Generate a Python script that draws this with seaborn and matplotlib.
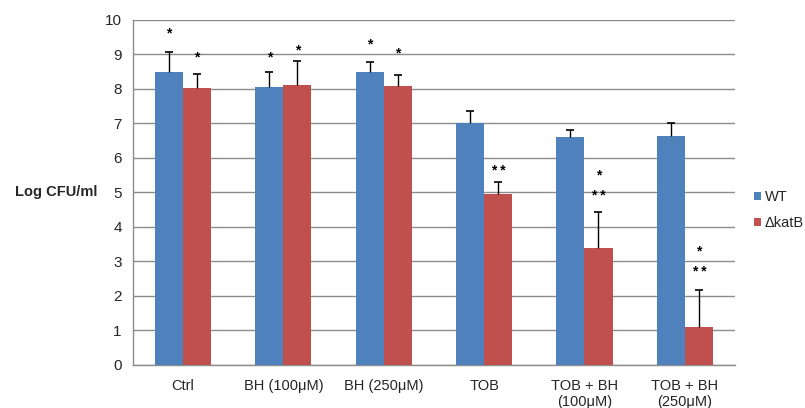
import matplotlib
matplotlib.use("Agg")
import matplotlib.pyplot as plt
import seaborn as sns
import pandas as pd
import numpy as np
from matplotlib.patches import Patch

categories = ["Ctrl", "BH (100μM)", "BH (250μM)", "TOB", "TOB + BH\n(100μM)", "TOB + BH\n(250μM)"]
series_names = ["WT", "ΔkatB"]
wt_values = [8.50, 8.07, 8.48, 7.00, 6.60, 6.64]
kat_values = [8.02, 8.12, 8.10, 4.97, 3.38, 1.09]
wt_err = [0.58, 0.42, 0.31, 0.36, 0.21, 0.36]
kat_err = [0.42, 0.69, 0.32, 0.34, 1.06, 1.08]
wt_star_labels = ["*", "*", "*", "", "", ""]
wt_star_y = [9.60, 8.90, 9.30, 0, 0, 0]
kat_star_labels = [["*"], ["*"], ["*"], ["* *"], ["*", "* *"], ["*", "* *"]]
kat_star_y = [[8.90], [9.13], [9.02], [5.63], [5.50, 4.90], [3.28, 2.70]]
yticks = [0, 1, 2, 3, 4, 5, 6, 7, 8, 9, 10]

colors = {"WT": "#4F81BD", "ΔkatB": "#C0504D"}

df = pd.DataFrame({
    "category": categories * 2,
    "series": [series_names[0]] * len(categories) + [series_names[1]] * len(categories),
    "value": wt_values + kat_values,
    "err": wt_err + kat_err,
})

sns.set_style("white")
plt.rcParams["font.family"] = ["Liberation Sans", "DejaVu Sans"]

fig = plt.figure(figsize=(8.05, 4.08), dpi=100)
ax = fig.add_axes([0.165, 0.1054, 0.748, 0.8456])

sns.barplot(data=df, x="category", y="value", hue="series", order=categories,
            hue_order=series_names, palette=colors, width=0.56, gap=0,
            errorbar=None, ax=ax, legend=False, linewidth=0, saturation=1, zorder=3)

# error bars and stars from bar patches
patches = [p for p in ax.patches if p.get_width() > 0]
n = len(categories)
for s_idx, (vals, errs) in enumerate([(wt_values, wt_err), (kat_values, kat_err)]):
    for i in range(n):
        p = patches[s_idx * n + i]
        xc = p.get_x() + p.get_width() / 2
        _, caps, _ = ax.errorbar([xc], [vals[i]], yerr=[[0], [errs[i]]], fmt="none",
                                 ecolor="black", elinewidth=1.0, capsize=2.8,
                                 capthick=1.2, zorder=4)
        if len(caps) == 2:
            caps[0].set_visible(False)
        if s_idx == 0:
            if wt_star_labels[i]:
                ax.text(xc, wt_star_y[i], wt_star_labels[i], ha="center", va="center",
                        fontsize=10, fontweight="bold", color="black")
        else:
            for lab, yy in zip(kat_star_labels[i], kat_star_y[i]):
                ax.text(xc, yy, lab, ha="center", va="center", fontsize=10,
                        fontweight="bold", color="black")

ax.set_xlim(-0.5, n - 0.5)
ax.set_ylim(0, 10)
ax.set_yticks(yticks)
ax.set_yticklabels([str(t) for t in yticks], fontsize=11)
ax.set_xticks(range(n))
ax.set_xticklabels(categories, fontsize=10.5)
ax.set_xticks(np.arange(-0.5, n, 1.0), minor=True)
ax.tick_params(axis="x", which="major", length=0, pad=10)
ax.tick_params(axis="x", which="minor", length=5, width=1, color="#8c8c8c", direction="out")
ax.tick_params(axis="y", which="major", length=4, width=1, color="#8c8c8c", direction="out", pad=4)

ax.yaxis.grid(True, color="#8c8c8c", linewidth=1, zorder=0)
ax.xaxis.grid(False)
ax.set_axisbelow(True)
for side in ["top", "right"]:
    ax.spines[side].set_visible(False)
for side in ["left", "bottom"]:
    ax.spines[side].set_color("#8c8c8c")
    ax.spines[side].set_linewidth(1)

ax.set_xlabel("")
ax.set_ylabel("Log CFU/ml", rotation=0, fontsize=10.5, fontweight="bold", ha="center", va="center")
ax.yaxis.set_label_coords(-0.128, 0.5)

handles = [Patch(facecolor=colors[s], edgecolor="none") for s in series_names]
fig.legend(handles, series_names, loc="center left", bbox_to_anchor=(0.929, 0.485),
           frameon=False, fontsize=10.5, handlelength=0.5, handleheight=0.5,
           handletextpad=0.25, labelspacing=0.85, borderaxespad=0)

fig.savefig("out.png", dpi=100)
